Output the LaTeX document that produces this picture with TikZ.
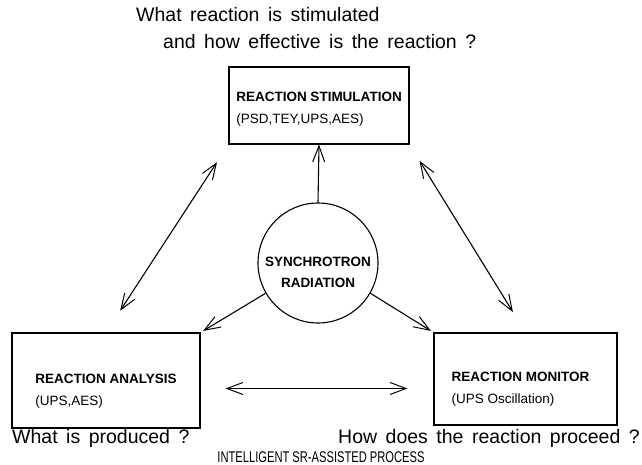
\documentclass[tikz,border=0pt]{standalone}
\usepackage{fontspec}
\setmainfont{Liberation Sans}
\usetikzlibrary{arrows.meta,positioning,calc}
\newcommand\askfont{\fontsize{19.5}{22}\selectfont\spaceskip 8.5pt\relax}

\begin{document}
\begin{tikzpicture}[x=1pt,y=-1pt,>={Straight Barb[length=16pt,width=12pt,line width=1pt]},
  box/.style={draw,line width=1.1pt},
  boxtext/.style={align=left,inner sep=0pt,font=\fontsize{13.5}{22}\selectfont},
  ask/.style={anchor=base west,inner sep=0pt,font=\askfont},
  link/.style={line width=1.1pt}]
\useasboundingbox (0,0) rectangle (642,465);
% questions round the process
\node[ask] (qtop) at (136,22) {What reaction is stimulated};
\node[ask] (qtop2) at (163,49) {and how effective is the reaction ?};
\node[ask] (qleft) at (12,443) {What is produced ?};
\node[ask] (qright) at (338,443) {How does the reaction proceed ?};
\node[ask,anchor=base,font=\fontsize{15.5}{18}\selectfont] (title) at (321,462)
  {\scalebox{0.72}[1]{INTELLIGENT SR-ASSISTED PROCESS}};
% boxes
\node[box,minimum width=180pt,minimum height=77pt] (stim) at (319,105.5) {};
\node[box,minimum width=188pt,minimum height=95pt] (ana) at (106,380.5) {};
\node[box,minimum width=183pt,minimum height=92pt] (mon) at (525.5,379) {};
\node[boxtext] (stimtxt) at ([yshift=-4pt]stim.center) {\textbf{REACTION STIMULATION}\\(PSD,TEY,UPS,AES)};
\node[boxtext] (anatxt) at ([yshift=-11pt]ana.center) {\textbf{REACTION ANALYSIS}\\(UPS,AES)};
\node[boxtext] (montxt) at ([xshift=-5pt,yshift=-10pt]mon.center) {\textbf{REACTION MONITOR}\\(UPS Oscillation)};
\node[circle,draw,line width=1.1pt,minimum size=120pt] (sr) at (318,263) {};
\node[boxtext,align=center,font=\fontsize{13.5}{21}\selectfont\bfseries] (srtxt)
  at ([yshift=-9pt]sr.center) {SYNCHROTRON\\RADIATION};
% connectors
\draw[link,->] (sr.north) -- (stim.south);
\draw[link,->,shorten >=3pt] (sr.210) -- (ana.north east);
\draw[link,->,shorten >=3pt] (sr.-30) -- (mon.north west);
\draw[link,<->,shorten <=21pt,shorten >=26pt] (stim.south west) -- (ana.north);
\draw[link,<->,shorten <=19pt,shorten >=24pt] (stim.south east) -- (mon.north);
\draw[link,<->,shorten <=25pt,shorten >=26pt] ([yshift=-8pt]ana.east) -- ([yshift=-8pt]ana.east -| mon.west);
\end{tikzpicture}
\end{document}
